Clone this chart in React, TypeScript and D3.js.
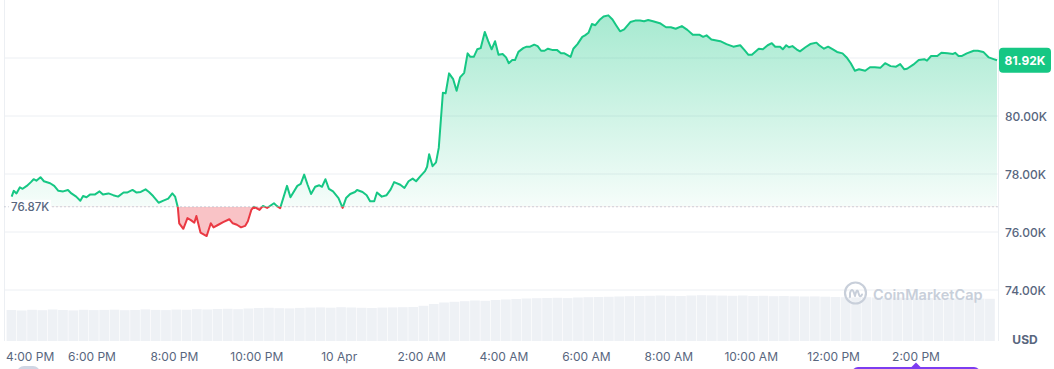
import React from 'react';
import * as d3 from 'd3';

const START = new Date(2025, 3, 9, 16, 0);

// minutes after 9 Apr 4:00 PM
const minutesFromStart = [
  3, 6, 10, 15, 19, 25, 31, 35, 39, 45,
  50, 59, 65, 71, 78, 85, 90, 97, 103, 107,
  112, 117, 124, 131, 136, 144, 151, 158, 166, 171,
  179, 185, 191, 198, 203, 209, 217, 224, 231, 237,
  241, 245, 247, 253, 259, 264, 269, 272, 278, 287,
  293, 297, 304, 311, 320, 325, 331, 337, 343, 347,
  352, 356, 364, 369, 375, 385, 389, 394, 404, 409,
  419, 424, 429, 434, 439, 445, 451, 455, 460, 465,
  471, 479, 485, 490, 496, 503, 506, 514, 520, 525,
  531, 535, 542, 549, 555, 560, 569, 575, 581, 587,
  592, 598, 605, 608, 611, 616, 621, 625, 631, 635,
  640, 646, 651, 656, 662, 667, 671, 676, 681, 686,
  692, 697, 702, 707, 712, 718, 723, 727, 732, 736,
  741, 748, 753, 758, 764, 769, 774, 779, 784, 790,
  797, 803, 808, 817, 821, 827, 834, 838, 843, 848,
  853, 859, 865, 872, 878, 883, 889, 895, 904, 911,
  918, 924, 930, 937, 947, 956, 963, 970, 979, 987,
  995, 1005, 1010, 1015, 1022, 1035, 1044, 1054, 1064, 1070,
  1076, 1081, 1091, 1097, 1104, 1110, 1115, 1122, 1126, 1131,
  1135, 1140, 1146, 1151, 1159, 1166, 1175, 1179, 1186, 1192,
  1199, 1205, 1213, 1219, 1225, 1231, 1237, 1246, 1253, 1260,
  1268, 1275, 1283, 1291, 1297, 1303, 1307, 1316, 1324, 1332,
  1336, 1342, 1351, 1357, 1366, 1374, 1377, 1382, 1387, 1394,
  1404, 1410, 1418, 1426, 1433, 1438,
];

// price in thousands of USD
const pricesK = [
  77.22, 77.42, 77.33, 77.54, 77.49, 77.59, 77.72, 77.82, 77.77, 77.89,
  77.75, 77.68, 77.59, 77.42, 77.40, 77.45, 77.33, 77.22, 77.08, 77.24,
  77.20, 77.29, 77.29, 77.40, 77.29, 77.33, 77.27, 77.22, 77.36, 77.36,
  77.45, 77.36, 77.38, 77.47, 77.38, 77.24, 77.01, 77.08, 77.15, 77.33,
  77.22, 76.85, 76.30, 76.11, 76.48, 76.41, 76.32, 76.55, 75.98, 75.86,
  76.30, 76.16, 76.25, 76.34, 76.44, 76.30, 76.25, 76.16, 76.21, 76.37,
  76.76, 76.87, 76.76, 76.90, 76.83, 76.99, 76.90, 76.82, 77.59, 77.20,
  77.59, 77.66, 77.98, 77.63, 77.31, 77.56, 77.61, 77.56, 77.82, 77.49,
  77.40, 77.17, 76.83, 77.17, 77.31, 77.38, 77.45, 77.38, 77.27, 77.06,
  77.06, 77.36, 77.22, 77.27, 77.47, 77.72, 77.63, 77.52, 77.75, 77.84,
  77.75, 77.92, 78.10, 78.25, 78.68, 78.27, 78.40, 78.90, 80.80, 80.78,
  81.47, 81.27, 80.87, 81.33, 81.49, 82.16, 82.04, 82.04, 82.30, 82.34,
  82.90, 82.58, 82.30, 82.58, 82.11, 82.14, 82.02, 81.82, 81.93, 81.93,
  82.21, 82.34, 82.39, 82.39, 82.46, 82.41, 82.25, 82.25, 82.32, 82.28,
  82.28, 82.16, 82.16, 82.04, 82.32, 82.48, 82.73, 82.78, 82.87, 83.17,
  83.13, 83.31, 83.43, 83.47, 83.33, 83.14, 82.92, 82.99, 83.24, 83.29,
  83.29, 83.27, 83.31, 83.27, 83.20, 83.06, 83.06, 83.01, 83.10, 82.97,
  82.80, 82.80, 82.73, 82.78, 82.64, 82.58, 82.48, 82.39, 82.44, 82.28,
  82.11, 82.11, 82.32, 82.30, 82.44, 82.51, 82.39, 82.39, 82.30, 82.44,
  82.37, 82.41, 82.30, 82.23, 82.37, 82.48, 82.53, 82.44, 82.32, 82.39,
  82.30, 82.21, 82.16, 82.02, 81.82, 81.56, 81.61, 81.56, 81.68, 81.68,
  81.66, 81.82, 81.72, 81.70, 81.79, 81.61, 81.63, 81.77, 81.93, 81.96,
  81.91, 82.07, 82.07, 82.18, 82.16, 82.14, 82.18, 82.07, 82.07, 82.16,
  82.25, 82.25, 82.21, 82.02, 81.96, 81.92,
];

// volume per 15-minute slot (relative units)
const volumes = [
  310, 305, 312, 308, 315, 310, 306, 312, 309, 311,
  313, 308, 310, 316, 311, 309, 314, 312, 318, 315,
  320, 322, 318, 325, 330, 332, 328, 326, 331, 334,
  336, 333, 338, 335, 332, 330, 334, 336, 338, 340,
  352, 370, 385, 392, 398, 405, 402, 410, 415, 420,
  425, 428, 430, 432, 429, 435, 438, 440, 442, 445,
  448, 450, 452, 455, 452, 450, 455, 458, 456, 454,
  452, 455, 450, 452, 448, 450, 447, 445, 446, 443,
  440, 438, 436, 438, 435, 432, 434, 430, 428, 430,
  427, 429, 425, 426, 424, 422,
];

const openPriceK = 76.87;
const yTicksK = [74, 76, 78, 80, 82];
const currencyLabel = 'USD';
const brandLabel = 'CoinMarketCap';

const GREEN = '#16c784';
const RED = '#ea3943';
const AXIS_TEXT = '#58667e';
const FONT = 'Inter, "Noto Sans", sans-serif';

export default function App() {
  const W = 1054;
  const H = 369;
  const left = 4.5;
  const right = 998.5;

  const x = d3
    .scaleTime()
    .domain([START, d3.timeHour.offset(START, 24)])
    .range([9.6, 998.4]);
  const y = d3.scaleLinear().domain([74, 82]).range([290, 58]);
  const vY = d3.scaleLinear().domain([0, 470]).range([341, 294]);

  const data = minutesFromStart.map((m, i) => ({
    t: d3.timeMinute.offset(START, m),
    v: pricesK[i],
  }));

  const baseY = y(openPriceK);
  const lineGen = d3
    .line<{ t: Date; v: number }>()
    .x((d) => x(d.t))
    .y((d) => y(d.v));
  const areaGen = d3
    .area<{ t: Date; v: number }>()
    .x((d) => x(d.t))
    .y0(baseY)
    .y1((d) => y(d.v));
  const linePath = lineGen(data) || '';
  const areaPath = areaGen(data) || '';

  const xTicks = d3.timeHour.every(2)!.range(START, d3.timeHour.offset(START, 23));
  const fmtTick = (d: Date) => {
    if (d.getHours() === 0) return d3.timeFormat('%-d %b')(d);
    return d3.timeFormat('%-I:%M %p')(d);
  };

  const step = x(d3.timeMinute.offset(START, 15)) - x(START);
  const last = data[data.length - 1];
  const lastY = y(last.v);

  const fmtK = (v: number) => `${v.toFixed(2)}K`;

  const badgeH = 25;
  const badgeTop = lastY - badgeH / 2;
  const markerX = x(d3.timeHour.offset(START, 22));

  return (
    <svg
      width={W}
      height={H}
      viewBox={`0 0 ${W} ${H}`}
      style={{ position: 'absolute', left: 0, top: 0, background: '#fff', fontFamily: FONT }}
    >
      <defs>
        <linearGradient id="gUp" gradientUnits="userSpaceOnUse" x1="0" y1={y(83.5)} x2="0" y2={baseY}>
          <stop offset="0" stopColor={GREEN} stopOpacity={0.38} />
          <stop offset="1" stopColor={GREEN} stopOpacity={0.04} />
        </linearGradient>
        <clipPath id="cAbove">
          <rect x={0} y={0} width={W} height={baseY} />
        </clipPath>
        <clipPath id="cBelow">
          <rect x={0} y={baseY} width={W} height={H - baseY} />
        </clipPath>
      </defs>

      {/* volume bars */}
      <g>
        {volumes.map((v, i) => {
          const t = d3.timeMinute.offset(START, i * 15);
          const x0 = x(t) - 3;
          return (
            <rect
              key={i}
              x={x0}
              y={vY(v)}
              width={Math.max(1, step - 0.6)}
              height={vY(0) - vY(v)}
              fill="#eef1f5"
            />
          );
        })}
      </g>

      {/* grid */}
      {yTicksK.map((t) => (
        <line key={t} x1={left} x2={right} y1={y(t)} y2={y(t)} stroke="#eceff3" strokeWidth={1} />
      ))}
      <line x1={left} x2={left} y1={0} y2={341} stroke="#eceff3" strokeWidth={1} />
      <line x1={right} x2={right} y1={0} y2={341} stroke="#eceff3" strokeWidth={1} />

      {/* watermark */}
      <g transform="translate(855.5,293)">
        <circle r={10.5} fill="none" stroke="#c8cfda" strokeWidth={2.2} />
        <path
          d="M-5.5,4 L-5.5,0 Q-3.5,-6 -1.5,0 L-0.5,3 Q1.5,-6 3,0 L3.8,2.5 Q5,4.5 6.5,1.5"
          fill="none"
          stroke="#c8cfda"
          strokeWidth={2}
          strokeLinecap="round"
          strokeLinejoin="round"
        />
      </g>
      <text x={873} y={294} dominantBaseline="central" fontSize={14.5} fontWeight={600} fill="#c8cfda">
        {brandLabel}
      </text>

      {/* areas */}
      <path d={areaPath} fill="url(#gUp)" clipPath="url(#cAbove)" />
      <path d={areaPath} fill={RED} fillOpacity={0.3} clipPath="url(#cBelow)" />

      {/* baseline */}
      <line
        x1={left}
        x2={right}
        y1={baseY}
        y2={baseY}
        stroke="#a1a7bb"
        strokeWidth={1}
        strokeDasharray="1 3"
      />

      {/* line */}
      <path d={linePath} fill="none" stroke={GREEN} strokeWidth={2} strokeLinejoin="round" clipPath="url(#cAbove)" />
      <path d={linePath} fill="none" stroke={RED} strokeWidth={2} strokeLinejoin="round" clipPath="url(#cBelow)" />

      {/* open price label */}
      <rect x={9} y={baseY - 7} width={42} height={14} fill="#fff" />
      <text x={11} y={baseY} dominantBaseline="central" fontSize={11.5} fontWeight={500} fill={AXIS_TEXT}>
        {fmtK(openPriceK)}
      </text>

      {/* right axis labels */}
      {yTicksK
        .filter((t) => Math.abs(y(t) - lastY) > 14)
        .map((t) => (
          <text key={t} x={1005} y={y(t)} dominantBaseline="central" fontSize={12} fontWeight={500} fill={AXIS_TEXT}>
            {fmtK(t)}
          </text>
        ))}

      {/* current price badge */}
      <rect x={999} y={badgeTop} width={52} height={badgeH} rx={4} fill={GREEN} />
      <text
        x={1025}
        y={lastY}
        dominantBaseline="central"
        textAnchor="middle"
        fontSize={12}
        fontWeight={700}
        fill="#fff"
      >
        {fmtK(last.v)}
      </text>

      {/* currency */}
      <text x={1025} y={339} dominantBaseline="central" textAnchor="middle" fontSize={12} fontWeight={700} fill={AXIS_TEXT}>
        {currencyLabel}
      </text>

      {/* x axis labels */}
      {xTicks.map((t, i) => {
        const px = x(t);
        const first = i === 0;
        return (
          <text
            key={+t}
            x={first ? 6 : px}
            y={356}
            dominantBaseline="central"
            textAnchor={first ? 'start' : 'middle'}
            fontSize={12}
            fill={AXIS_TEXT}
          >
            {fmtTick(t)}
          </text>
        );
      })}

      {/* cut-off controls at the bottom */}
      <rect x={17} y={366} width={23} height={14} rx={7} fill="#cfd6e4" />
      <rect x={852} y={367} width={128} height={16} rx={6} fill="#7d3cf0" />
      <path d={`M${markerX - 5},367.5 L${markerX},362.5 L${markerX + 5},367.5 Z`} fill="#7d3cf0" />
    </svg>
  );
}
